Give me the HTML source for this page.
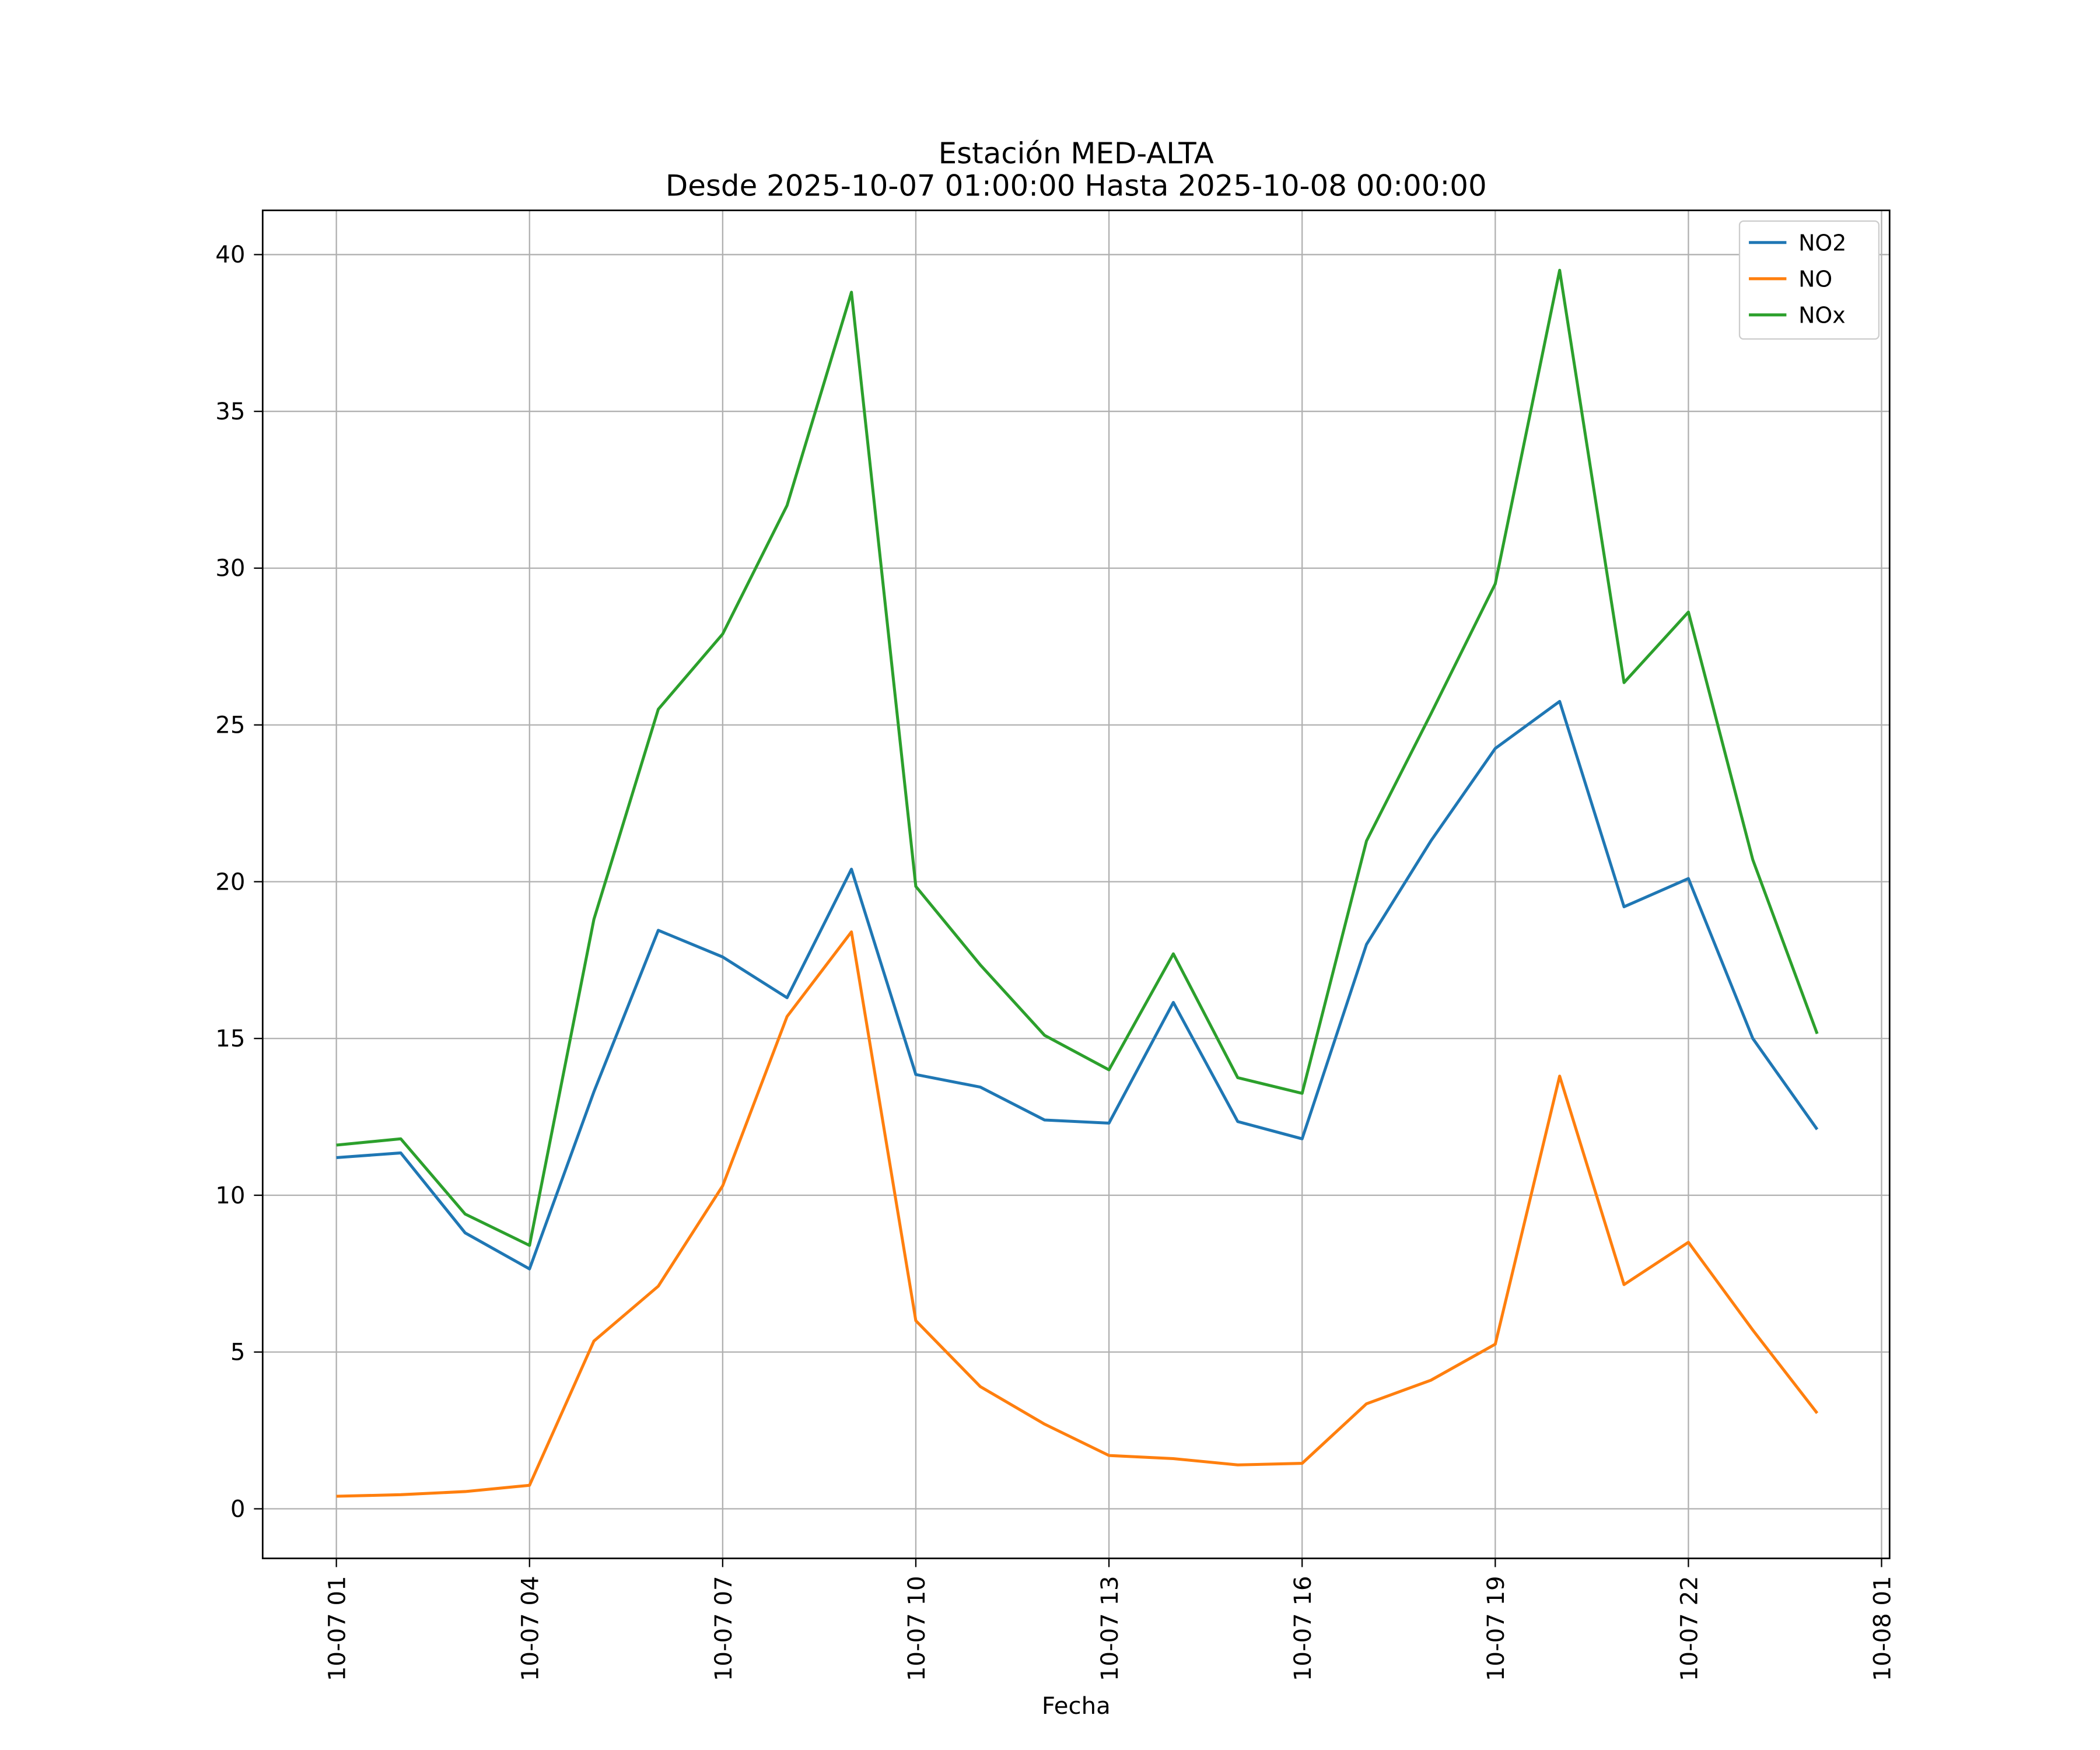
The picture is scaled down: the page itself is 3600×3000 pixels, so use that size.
<!DOCTYPE html>
<html><head><meta charset="utf-8"><style>
html,body{margin:0;padding:0;background:#fff;}
svg{display:block;font-family:"DejaVu Sans","Liberation Sans",sans-serif;}
</style></head><body>
<svg id="chart" width="3600" height="3000" viewBox="0 0 1567 1306" preserveAspectRatio="none" xmlns="http://www.w3.org/2000/svg">
<rect width="1567" height="1306" fill="#fff"/>
<text x="803" y="122" text-anchor="middle" font-size="21.7">Estación MED-ALTA</text>
<text x="803" y="146" text-anchor="middle" font-size="21.7">Desde 2025-10-07 01:00:00 Hasta 2025-10-08 00:00:00</text>
<g id="grid"></g>
<g id="series"></g>
<rect x="196" y="157" width="1214" height="1006" fill="none" stroke="#000" stroke-width="1.2"/>
<g id="axes"></g>
<text x="803" y="1279" text-anchor="middle" font-size="17.5">Fecha</text>
<g>
<rect x="1298" y="165" width="104" height="88" fill="#fff" stroke="#ccc" rx="3"/>
<g id="legend"></g>
</g>
</svg>
<script>
const hours = [1,2,3,4,5,6,7,8,9,10,11,12,13,14,15,16,17,18,19,20,21,22,23,24];
const no2 = [11.2,11.35,8.8,7.65,13.3,18.45,17.6,16.3,20.4,13.85,13.45,12.4,12.3,16.15,12.35,11.8,18.0,21.3,24.25,25.75,19.2,20.1,15.0,12.1];
const no = [0.4,0.45,0.55,0.75,5.35,7.1,10.3,15.7,18.4,6.0,3.9,2.7,1.7,1.6,1.4,1.45,3.35,4.1,5.25,13.8,7.15,8.5,5.7,3.05];
const nox = [11.6,11.8,9.4,8.4,18.8,25.5,27.9,32.0,38.8,19.85,17.35,15.1,14.0,17.7,13.75,13.25,21.3,25.35,29.5,39.5,26.35,28.6,20.7,15.15];
const xTickHours = [1,4,7,10,13,16,19,22,25];
const xTickLabels = ["10-07 01","10-07 04","10-07 07","10-07 10","10-07 13","10-07 16","10-07 19","10-07 22","10-08 01"];
const yTicks = [0,5,10,15,20,25,30,35,40];
const seriesNames = ["NO2","NO","NOx"];
const seriesColors = ["#1f77b4","#ff7f0e","#2ca02c"];

const NS="http://www.w3.org/2000/svg";
const L=196,R=1410,T=157,B=1163;
const xs=h=>251+(h-1)*(1404-251)/24;
const ys=v=>1126-v*(1126-190)/40;
function mk(tag,attrs,parent){const e=document.createElementNS(NS,tag);for(const k in attrs)e.setAttribute(k,attrs[k]);parent.appendChild(e);return e;}
const grid=document.getElementById('grid'),axes=document.getElementById('axes'),ser=document.getElementById('series'),leg=document.getElementById('legend');
xTickHours.forEach((h,i)=>{
  const x=xs(h);
  const g=mk('line',{x1:x,x2:x,y1:T,y2:B,stroke:'#b0b0b0','stroke-width':1},grid);
  
  
  const t=mk('line',{x1:x,x2:x,y1:B,y2:B+6.5,stroke:'#000','stroke-width':1},axes);
  
  
  const tx=mk('text',{x:0,y:0,'font-size':17.5,'text-anchor':'end',transform:`translate(${x+6.5},${B+13}) rotate(-90)`},axes);
  tx.textContent=xTickLabels[i];
  
  
});
yTicks.forEach(v=>{
  const y=ys(v);
  const g=mk('line',{x1:L,x2:R,y1:y,y2:y,stroke:'#b0b0b0','stroke-width':1},grid);
  
  
  const t=mk('line',{x1:L-6.5,x2:L,y1:y,y2:y,stroke:'#000','stroke-width':1},axes);
  
  
  const tx=mk('text',{x:L-13,y:y+6,'font-size':17.5,'text-anchor':'end'},axes);
  tx.textContent=v;
  
  
});
[no2,no,nox].forEach((d,i)=>{
  const p=mk('polyline',{points:d.map((v,j)=>xs(hours[j])+','+ys(v)).join(' '),fill:'none',stroke:seriesColors[i],'stroke-width':2.2,'stroke-linejoin':'round'},ser);
  
  
  const y=181+i*27;
  const ll=mk('line',{x1:1305,x2:1333,y1:y,y2:y,stroke:seriesColors[i],'stroke-width':2.2},leg);
  
  
  const lt=mk('text',{x:1342,y:y+6,'font-size':16.5},leg);
  lt.textContent=seriesNames[i];
  
  
});
</script>
</body></html>
